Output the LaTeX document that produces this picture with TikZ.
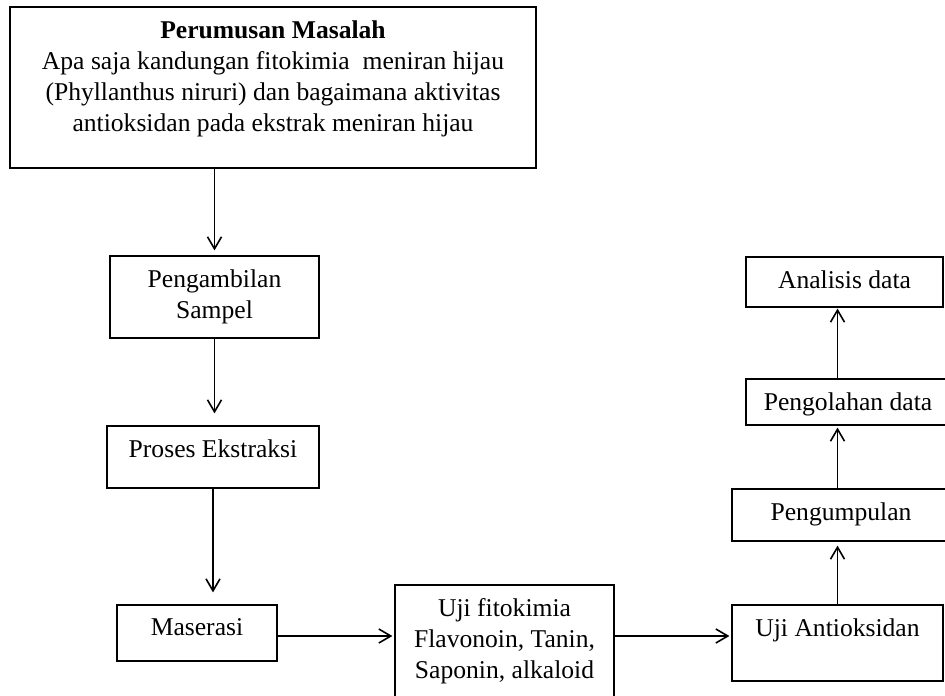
\documentclass[tikz,border=0pt]{standalone}
\usepackage{fontspec}
\setmainfont{Liberation Serif}
\usetikzlibrary{positioning,arrows.meta}

\begin{document}
\begin{tikzpicture}[x=0.5pt, y=-0.5pt, every node/.style={align=center},
    kotak/.style={draw, line width=0.6pt, inner sep=0pt},
    isi/.style={inner sep=0pt, anchor=north, font=\fontsize{12.8pt}{15.5pt}\selectfont},
    panah/.style={line width=0.8pt, -{Straight Barb[length=6pt, width=7pt]}}]
        % Frame
        \useasboundingbox (0,0) rectangle (945,695);

        % Boxes
        \node[kotak, minimum width=263pt, minimum height=80.5pt] (masalah) at (273,87.5) {};
        \node[kotak, minimum width=104.5pt, minimum height=41pt] (sampel) at (214.5,297) {};
        \node[kotak, minimum width=106pt, minimum height=31pt] (ekstraksi) at (213,457) {};
        \node[kotak, minimum width=80pt, minimum height=28pt] (maserasi) at (197,633) {};
        \node[kotak, minimum width=109.5pt, minimum height=57.5pt] (fitokimia) at (504.5,642.5) {};
        \node[kotak, minimum width=105.5pt, minimum height=38pt] (antioksidan) at (837.5,643) {};
        \node[kotak, minimum width=109pt, minimum height=26pt] (kumpul) at (841,515) {};
        \node[kotak, minimum width=102pt, minimum height=23pt] (olah) at (848,402) {};
        \node[kotak, minimum width=98.5pt, minimum height=25pt] (analisis) at (844.5,282) {};

        % Texts
        \node[isi, below=7pt of masalah.north] (masalahT) {\textbf{Perumusan Masalah}\\
            Apa saja kandungan fitokimia~ meniran hijau\\
            (Phyllanthus niruri) dan bagaimana aktivitas\\
            antioksidan pada ekstrak meniran hijau};
        \node[isi, below=7pt of sampel.north] (sampelT) {Pengambilan\\ Sampel};
        \node[isi, below=7pt of ekstraksi.north] (ekstraksiT) {Proses Ekstraksi};
        \node[isi, below=7pt of maserasi.north] (maserasiT) {Maserasi};
        \node[isi, below=7pt of fitokimia.north] (fitokimiaT) {Uji fitokimia\\ Flavonoin, Tanin,\\ Saponin, alkaloid};
        \node[isi, below=7pt of antioksidan.north] (antioksidanT) {Uji Antioksidan};
        \node[isi, below=7pt of kumpul.north] (kumpulT) {Pengumpulan};
        \node[isi, below=7pt of olah.north] (olahT) {Pengolahan data};
        \node[isi, below=7pt of analisis.north] (analisisT) {Analisis data};

        % Arrows
        \draw[panah, shorten >=2.5pt] (sampel.north |- masalah.south) -- (sampel.north);
        \draw[panah, shorten >=6pt] (sampel.south) -- (sampel.south |- ekstraksi.north);
        \draw[panah, shorten >=6pt] (ekstraksi.south) -- (ekstraksi.south |- maserasi.north);
        \draw[panah, shorten >=1pt] ([yshift=-1.5pt]maserasi.east) -- ([yshift=-1.5pt]maserasi.east -| fitokimia.west);
        \draw[panah, shorten >=1pt] ([yshift=-1.5pt]maserasi.east -| fitokimia.east) -- ([yshift=-1.5pt]maserasi.east -| antioksidan.west);
        \draw[panah, shorten >=2pt] (antioksidan.north) -- (antioksidan.north |- kumpul.south);
        \draw[panah, shorten >=1pt] (antioksidan.north |- kumpul.north) -- (antioksidan.north |- olah.south);
        \draw[panah, shorten >=0.5pt] (antioksidan.north |- olah.north) -- (antioksidan.north |- analisis.south);

    \end{tikzpicture}
\end{document}
